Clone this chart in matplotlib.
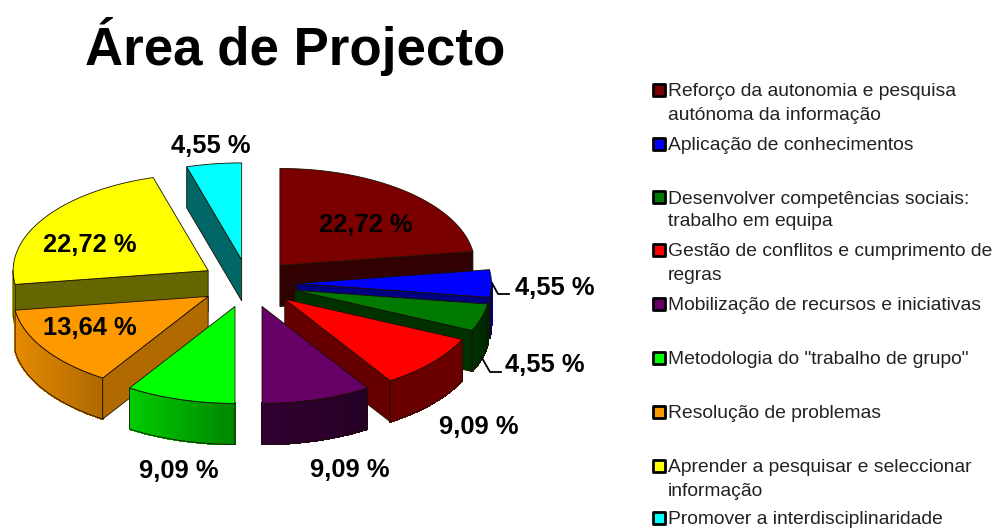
import numpy as np
import matplotlib
matplotlib.use("Agg")
import matplotlib.pyplot as plt
from matplotlib.colors import to_rgb

plt.rcParams['font.family'] = ['Liberation Sans', 'DejaVu Sans']

title = "Área de Projecto"
values = [22.72, 4.55, 4.55, 9.09, 9.09, 9.09, 13.64, 22.72, 4.55]
value_labels = ["22,72 %", "4,55 %", "4,55 %", "9,09 %", "9,09 %", "9,09 %", "13,64 %", "22,72 %", "4,55 %"]
categories = [
    "Reforço da autonomia e pesquisa\nautónoma da informação",
    "Aplicação de conhecimentos",
    "Desenvolver competências sociais:\ntrabalho em equipa",
    "Gestão de conflitos e cumprimento de\nregras",
    "Mobilização de recursos e iniciativas",
    'Metodologia do "trabalho de grupo"',
    "Resolução de problemas",
    "Aprender a pesquisar e seleccionar\ninformação",
    "Promover a interdisciplinaridade",
]
colors = ["#7A0000", "#0000FF", "#007A00", "#FF0000", "#660066", "#00FF00", "#FF9900", "#FFFF00", "#00FFFF"]
wall_shade = [0.40, 0.5, 0.40, 0.40, 0.40, 0.55, 0.69, 0.40, 0.40]
rim_left = [0.4, 0.5, 0.4, 0.42, 0.48, 0.80, 0.90, 0.85, 0.40]
rim_right = [0.4, 0.5, 0.3, 0.42, 0.36, 0.52, 0.68, 0.85, 0.40]

# layout of the pie in pixel coordinates
CX, CY, RX, RY, DEPTH, EXPLODE = 248.5, 283.5, 195.0, 97.0, 41.0, 0.246
draw_order = [0, 8, 7, 6, 1, 2, 3, 4, 5]
label_pos = [(366, 225), (555, 288), (545, 365), (479, 427), (350, 470), (179, 471), (90, 328), (90, 245), (211, 146)]
legend_y = [92, 146, 199, 252, 306, 360, 414, 468, 520]
LINE_H = 23.0
EDGE = "#1a1000"

fig = plt.figure(figsize=(10, 5.28), dpi=100)
ax = fig.add_axes([0, 0, 1, 1])
ax.set_xlim(0, 1000)
ax.set_ylim(528, 0)
ax.axis("off")


def pt(ax0, ay0, deg):
    r = np.radians(deg)
    return ax0 + RX * np.sin(r), ay0 - RY * np.cos(r)


def shade(c, f):
    return tuple(v * f for v in to_rgb(c))


bounds = np.cumsum([0] + values) / sum(values) * 360.0
for i in draw_order:
    a, b = bounds[i], bounds[i + 1]
    mid = np.radians((a + b) / 2)
    x0 = CX + EXPLODE * RX * np.sin(mid)
    y0 = CY - EXPLODE * RY * np.cos(mid)
    # outer rim: only the part turned towards the viewer
    lo, hi = max(a, 90), min(b, 270)
    if hi > lo:
        th = np.linspace(lo, hi, 60)
        xs, ys = pt(x0, y0, th)
        xmin, xmax = xs.min(), xs.max()
        for k in range(len(th) - 1):
            t = ((xs[k] + xs[k + 1]) / 2 - xmin) / max(xmax - xmin, 1)
            f = rim_left[i] + (rim_right[i] - rim_left[i]) * t
            col = shade(colors[i], f)
            ax.fill([xs[k], xs[k + 1], xs[k + 1], xs[k]],
                    [ys[k], ys[k + 1], ys[k + 1] + DEPTH, ys[k] + DEPTH],
                    facecolor=col, edgecolor=col, lw=0.8, antialiased=False, zorder=1)
        ax.plot(np.r_[xs, xs[::-1], xs[0]], np.r_[ys, ys[::-1] + DEPTH, ys[0]],
                color=EDGE, lw=0.6, zorder=1)
    # radial walls facing the viewer
    for deg, show in ((b, 0 < b < 180), (a, 180 < a < 360)):
        if show:
            xe, ye = pt(x0, y0, deg)
            ax.fill([x0, xe, xe, x0], [y0, ye, ye + DEPTH, y0 + DEPTH],
                    facecolor=shade(colors[i], wall_shade[i]), edgecolor=EDGE, lw=0.6, zorder=1)
    # top face
    th = np.linspace(a, b, 80)
    xs, ys = pt(x0, y0, th)
    ax.fill(np.r_[x0, xs], np.r_[y0, ys], facecolor=colors[i], edgecolor=EDGE, lw=0.6, zorder=1)

# leader lines
ax.plot([492, 498, 509], [283, 294, 294], color="black", lw=1.3, zorder=2)
ax.plot([482, 490, 501], [358, 372, 372], color="black", lw=1.3, zorder=2)

for lab, (x, y) in zip(value_labels, label_pos):
    ax.text(x, y, lab, fontsize=18.4, fontweight="bold", color="black",
            ha="center", va="center", zorder=3)

ax.text(85, 65, title, fontsize=38.1, fontweight="bold", color="black", ha="left", va="baseline")

for name, col, y in zip(categories, colors, legend_y):
    ax.scatter([659], [y - 2], marker="s", s=68, facecolor=col, edgecolor="black", linewidth=2.0, zorder=3)
    for j, line in enumerate(name.split("\n")):
        ax.text(668, y + j * LINE_H, line, fontsize=13.9, color="#222222", ha="left", va="center")

fig.savefig("out.png", dpi=100)
